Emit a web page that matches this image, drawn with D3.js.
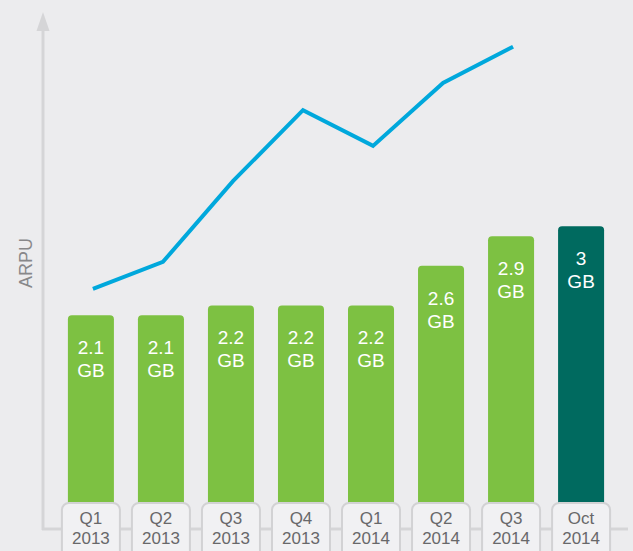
<!DOCTYPE html>
<html>
<head>
<meta charset="utf-8">
<script src="https://cdn.jsdelivr.net/npm/d3@7"></script>
<style>
  html, body { margin: 0; padding: 0; background: #ececee; }
  svg { display: block; font-family: "Liberation Sans", Arial, sans-serif; }
</style>
</head>
<body>
<svg id="chart" width="633" height="551"></svg>
<script>
// categories (two-line labels)
const quarters = ['Q1', 'Q2', 'Q3', 'Q4', 'Q1', 'Q2', 'Q3', 'Oct'];
const years = ['2013', '2013', '2013', '2013', '2014', '2014', '2014', '2014'];
// data usage per month, GB
const usage = [2.1, 2.1, 2.2, 2.2, 2.2, 2.6, 2.9, 3];
// ARPU trend, no units shown (relative index)
const arpu = [45.8, 51.1, 66.9, 80.8, 73.8, 86.1, 93.2];

const svg = d3.select('#chart');
const baseY = 523;

const x = d3.scaleBand()
    .domain(d3.range(quarters.length))
    .range([56, 616])
    .paddingInner(24 / 70)
    .paddingOuter(0.17);

const y = d3.scaleLinear().domain([0, 3]).range([baseY, baseY - 3 * 98.9]);
const yArpu = d3.scaleLinear().domain([0, 100]).range([baseY, 12]);

// axes
svg.append('line')
    .attr('x1', 43).attr('x2', 43).attr('y1', 28).attr('y2', 530)
    .attr('stroke', '#d5d5d7').attr('stroke-width', 3);
svg.append('path')
    .attr('d', 'M43,12 L36.5,31 L49.5,31 Z')
    .attr('fill', '#d5d5d7');
svg.append('line')
    .attr('x1', 42).attr('x2', 628).attr('y1', 529).attr('y2', 529)
    .attr('stroke', '#d5d5d7').attr('stroke-width', 3);

svg.append('text')
    .attr('transform', 'translate(32,263) rotate(-90)')
    .attr('text-anchor', 'middle')
    .attr('fill', '#88888a')
    .attr('font-size', 18)
    .text('ARPU');

// bars
const bars = svg.append('g');
bars.selectAll('path')
    .data(usage)
    .enter().append('path')
    .attr('d', function(d, i) {
        const x0 = x(i), w = x.bandwidth(), t = y(d), r = 4;
        return 'M' + x0 + ',' + baseY + 'V' + (t + r) +
            'Q' + x0 + ',' + t + ' ' + (x0 + r) + ',' + t +
            'H' + (x0 + w - r) +
            'Q' + (x0 + w) + ',' + t + ' ' + (x0 + w) + ',' + (t + r) +
            'V' + baseY + 'Z';
    })
    .attr('fill', function(d, i) { return i === usage.length - 1 ? '#006a5f' : '#7dc142'; });

const labels = bars.selectAll('text')
    .data(usage)
    .enter().append('text')
    .attr('text-anchor', 'middle')
    .attr('fill', '#ffffff')
    .attr('font-size', 19);
labels.append('tspan')
    .attr('x', function(d, i) { return x(i) + x.bandwidth() / 2; })
    .attr('y', function(d) { return y(d) + 39; })
    .text(function(d) { return d; });
labels.append('tspan')
    .attr('x', function(d, i) { return x(i) + x.bandwidth() / 2; })
    .attr('y', function(d) { return y(d) + 62; })
    .text('GB');

// ARPU line
const line = d3.line()
    .x(function(d, i) { return x(i) + x.bandwidth() / 2 + 2; })
    .y(function(d) { return yArpu(d); });
svg.append('path')
    .datum(arpu)
    .attr('d', line)
    .attr('fill', 'none')
    .attr('stroke', '#00a8dc')
    .attr('stroke-width', 4);

// category boxes
const ticks = svg.append('g').selectAll('g')
    .data(quarters)
    .enter().append('g')
    .attr('transform', function(d, i) { return 'translate(' + (x(i) + x.bandwidth() / 2) + ',0)'; });
ticks.append('rect')
    .attr('x', -29).attr('y', 503).attr('width', 58).attr('height', 60)
    .attr('rx', 7)
    .attr('fill', '#f1f1f3')
    .attr('stroke', '#d2d2d4')
    .attr('stroke-width', 2);
const tickText = ticks.append('text')
    .attr('text-anchor', 'middle')
    .attr('fill', '#68686a')
    .attr('font-size', 17);
tickText.append('tspan')
    .attr('x', 0).attr('y', 524)
    .text(function(d) { return d; });
tickText.append('tspan')
    .attr('x', 0).attr('y', 544)
    .text(function(d, i) { return years[i]; });
</script>
</body>
</html>
